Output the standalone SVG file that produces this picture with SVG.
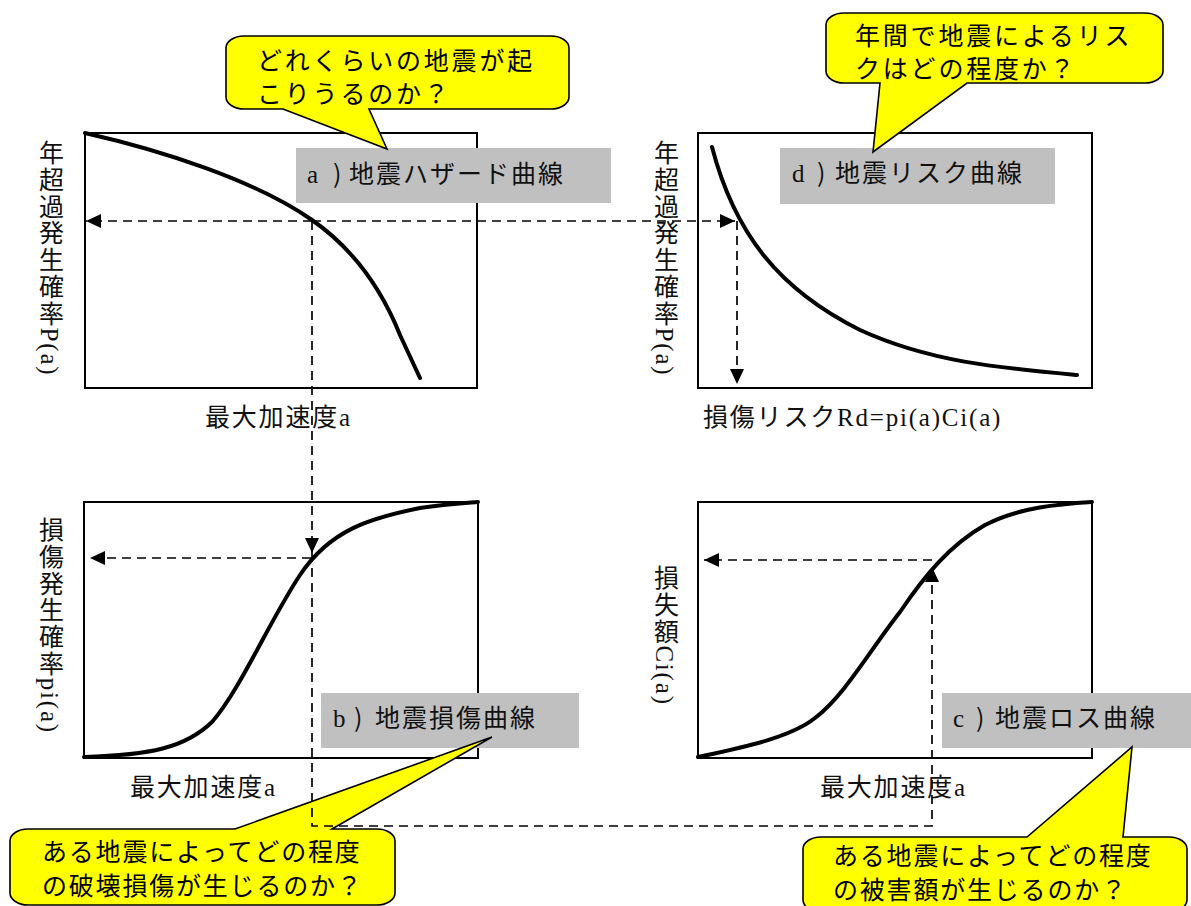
<svg xmlns="http://www.w3.org/2000/svg" width="1191" height="906" viewBox="0 0 1191 906">
<defs>
<style>
.box{fill:#fff;stroke:#000;stroke-width:2}
.curve{fill:none;stroke:#000;stroke-width:4;stroke-linecap:round;stroke-linejoin:round}
.tag{fill:#c0c0c0;stroke:none}
.tagtxt{font-family:"Liberation Serif","Noto Sans CJK JP",serif;font-size:25px;fill:#111}
.jp{font-family:"Noto Sans CJK JP",sans-serif}
.ax{font-family:"Liberation Serif","Noto Sans CJK JP",serif;font-size:25px;letter-spacing:1.8px;fill:#111}
.vert{writing-mode:vertical-rl}
.bubble{fill:#ffff00;stroke:#000;stroke-width:1.6;stroke-linejoin:miter}
.btxt{font-family:"Noto Sans CJK JP",sans-serif;font-size:25px;fill:#000}
.dash{fill:none;stroke:#000;stroke-width:1.7;stroke-dasharray:9 6}
</style>
<marker id="arr" viewBox="0 0 15 14" refX="15" refY="7" markerWidth="15" markerHeight="14" markerUnits="userSpaceOnUse" orient="auto">
<path d="M0,0 L15,7 L0,14 Z" fill="#000"/>
</marker>
</defs>
<rect width="1191" height="906" fill="#fff"/>

<g id="panel-a">
<rect class="box" x="85" y="133" width="392" height="255"/>
<path class="curve" d="M85,133 C160,150 255,180 312,220 C355,250 382,290 400,335 L420,378"/>
<text class="ax vert" x="49" y="140">年超過発生確率P(a)</text>
<text class="ax" x="205" y="426">最大加速度a</text>
<rect class="tag" x="296" y="148" width="315" height="55"/>
<text class="tagtxt" y="183"><tspan x="307">a</tspan><tspan x="333" class="jp">)</tspan><tspan x="349" class="jp" style="letter-spacing:2px">地震ハザード曲線</tspan></text>
</g>

<g id="panel-d">
<rect class="box" x="698" y="133" width="394" height="255"/>
<path class="curve" d="M712,147 C735,235 780,290 860,330 C930,362 1000,368 1077,375"/>
<text class="ax vert" x="664" y="140">年超過発生確率P(a)</text>
<text class="ax" x="703" y="426">損傷リスクRd=pi(a)Ci(a)</text>
<rect class="tag" x="780" y="148" width="275" height="56"/>
<text class="tagtxt" y="182"><tspan x="792">d</tspan><tspan x="817" class="jp">)</tspan><tspan x="835" class="jp" style="letter-spacing:2px">地震リスク曲線</tspan></text>
</g>

<g id="panel-b">
<rect class="box" x="84" y="502" width="394" height="256"/>
<path class="curve" d="M84,757 C150,755 185,748 212,722 C240,690 270,620 300,575 C330,530 370,518 420,508 C445,504 465,503 478,502"/>
<text class="ax vert" x="49" y="517">損傷発生確率pi(a)</text>
<text class="ax" x="130" y="796">最大加速度a</text>
<rect class="tag" x="321" y="693" width="258" height="55"/>
<text class="tagtxt" y="727"><tspan x="333">b</tspan><tspan x="354" class="jp">)</tspan><tspan x="375" class="jp" style="letter-spacing:2px">地震損傷曲線</tspan></text>
</g>

<g id="panel-c">
<rect class="box" x="698" y="502" width="394" height="256"/>
<path class="curve" d="M698,757 C740,748 790,738 815,718 C845,695 870,650 900,612 C925,575 950,545 985,525 C1020,507 1060,504 1092,502"/>
<text class="ax vert" x="664" y="565">損失額Ci(a)</text>
<text class="ax" x="820" y="796">最大加速度a</text>
<rect class="tag" x="942" y="693" width="249" height="55"/>
<text class="tagtxt" y="727"><tspan x="953">c</tspan><tspan x="976" class="jp">)</tspan><tspan x="995" class="jp" style="letter-spacing:2px">地震ロス曲線</tspan></text>
</g>

<g id="callout-a">
<path class="bubble" d="M244,36 H551 A18,12 0 0 1 569,48 V97 A18,12 0 0 1 551,109 H369 L387,149 L283,109 H244 A18,12 0 0 1 226,97 V48 A18,12 0 0 1 244,36 Z"/>
<text class="btxt" x="257" y="70" style="letter-spacing:2.8px">どれくらいの地震が起</text>
<text class="btxt" x="257" y="103" style="letter-spacing:2.8px">こりうるのか？</text>
</g>

<g id="callout-d">
<path class="bubble" d="M844,13 H1145 A18,12 0 0 1 1163,25 V71 A18,12 0 0 1 1145,83 H967 L873,152 L880,83 H844 A18,12 0 0 1 826,71 V25 A18,12 0 0 1 844,13 Z"/>
<text class="btxt" x="855" y="45" style="letter-spacing:2.8px">年間で地震によるリス</text>
<text class="btxt" x="855" y="78" style="letter-spacing:2.8px">クはどの程度か？</text>
</g>

<g id="callout-b">
<path class="bubble" d="M28,829 H235 L492,737 L332,829 H377 A18,12 0 0 1 395,841 V893 A18,12 0 0 1 377,905 H28 A18,12 0 0 1 10,893 V841 A18,12 0 0 1 28,829 Z"/>
<text class="btxt" x="42" y="861" style="letter-spacing:1.8px">ある地震によってどの程度</text>
<text class="btxt" x="42" y="895" style="letter-spacing:1.8px">の破壊損傷が生じるのか？</text>
</g>

<g id="callout-c">
<path class="bubble" d="M821,837 H1027 L1132,747 L1123,837 H1169 A18,12 0 0 1 1187,849 V900 A18,12 0 0 1 1169,912 H821 A18,12 0 0 1 803,900 V849 A18,12 0 0 1 821,837 Z"/>
<text class="btxt" x="833" y="865" style="letter-spacing:1.8px">ある地震によってどの程度</text>
<text class="btxt" x="833" y="899" style="letter-spacing:1.8px">の被害額が生じるのか？</text>
</g>

<g id="connectors">
<path class="dash" d="M312,221 H86" marker-end="url(#arr)"/>
<path class="dash" d="M312,221 H735" marker-end="url(#arr)"/>
<path class="dash" d="M737,221 V384" marker-end="url(#arr)"/>
<path class="dash" d="M312,221 V553" marker-end="url(#arr)"/>
<path class="dash" d="M311,558 H90" marker-end="url(#arr)"/>
<path class="dash" d="M312,553 V826 H932 V567" marker-end="url(#arr)"/>
<path class="dash" d="M932,560 H704" marker-end="url(#arr)"/>
</g>
</svg>
